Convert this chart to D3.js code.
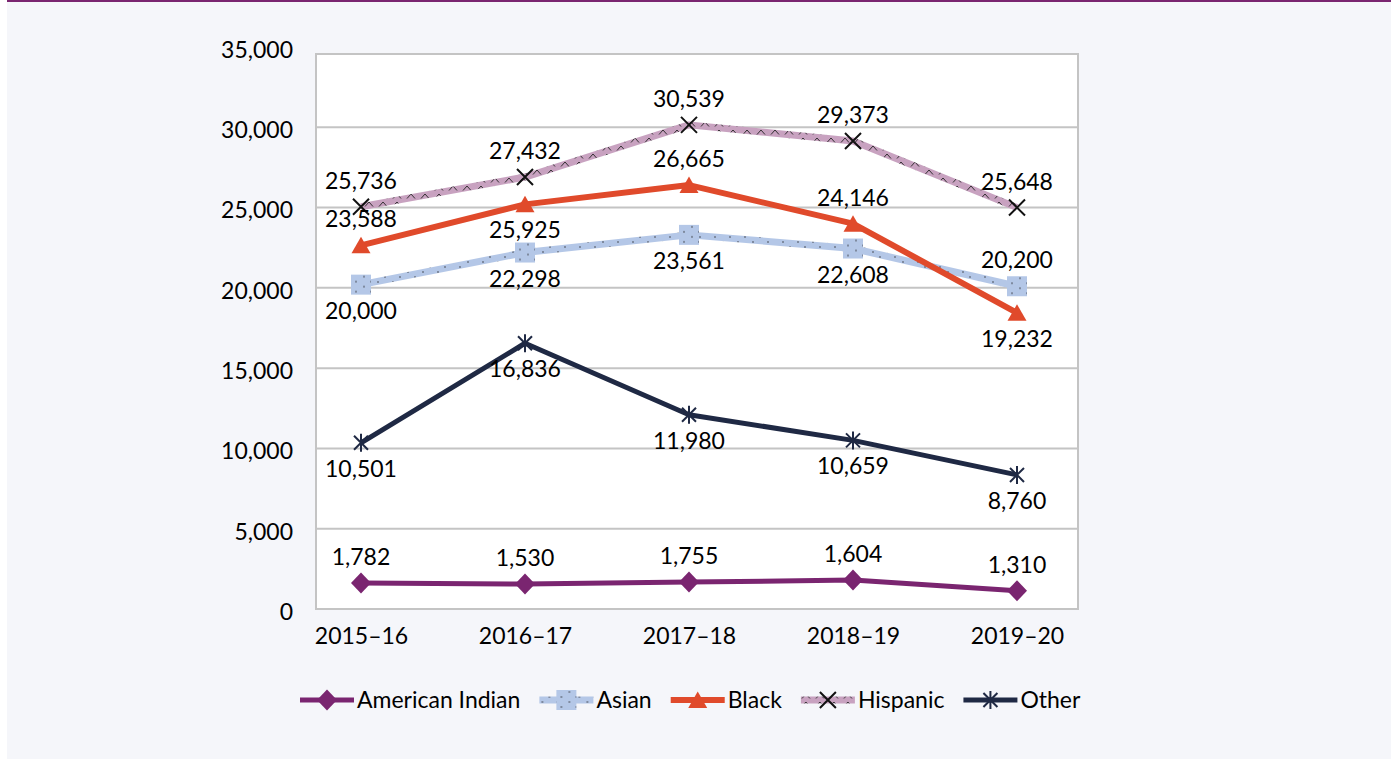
<!DOCTYPE html>
<html>
<head>
<meta charset="utf-8">
<script src="https://cdn.jsdelivr.net/npm/d3@7"></script>
<style>
  body { margin: 0; background: #fff; }
  svg text { font-family: Lato, "Open Sans", sans-serif; font-size: 23px; fill: #000; }
</style>
</head>
<body>
<svg id="chart" width="1398" height="759"></svg>
<script>
// data
const years = ['2015\u201316', '2016\u201317', '2017\u201318', '2018\u201319', '2019\u201320'];
const yTicks = [0, 5000, 10000, 15000, 20000, 25000, 30000, 35000];

// plotted values
const americanIndian = [1620, 1550, 1680, 1800, 1130];
const asian = [20200, 22200, 23300, 22450, 20100];
const black = [22650, 25200, 26400, 24000, 18450];
const hispanic = [25050, 26900, 30150, 29150, 25000];
const other = [10350, 16550, 12100, 10500, 8350];

// data label texts as printed
const americanIndianLabels = ['1,782', '1,530', '1,755', '1,604', '1,310'];
const asianLabels = ['20,000', '22,298', '23,561', '22,608', '20,200'];
const blackLabels = ['23,588', '25,925', '26,665', '24,146', '19,232'];
const hispanicLabels = ['25,736', '27,432', '30,539', '29,373', '25,648'];
const otherLabels = ['10,501', '16,836', '11,980', '10,659', '8,760'];

// which side of the point each label sits (-1 above, 1 below)
const americanIndianSide = [-1, -1, -1, -1, -1];
const asianSide = [1, 1, 1, 1, -1];
const blackSide = [-1, 1, -1, -1, 1];
const hispanicSide = [-1, -1, -1, -1, -1];
const otherSide = [1, 1, 1, 1, 1];

const series = [
  { name: 'American Indian', values: americanIndian, labels: americanIndianLabels, side: americanIndianSide,
    color: '#7A2570', stroke: '#7A2570', width: 5, marker: 'diamond' },
  { name: 'Asian', values: asian, labels: asianLabels, side: asianSide,
    color: '#B4C7E7', stroke: 'url(#dots)', width: 7, marker: 'square' },
  { name: 'Black', values: black, labels: blackLabels, side: blackSide,
    color: '#E04A2B', stroke: '#E04A2B', width: 6, marker: 'triangle' },
  { name: 'Hispanic', values: hispanic, labels: hispanicLabels, side: hispanicSide,
    color: '#C8A2C0', stroke: 'url(#zigzag)', width: 7, marker: 'x' },
  { name: 'Other', values: other, labels: otherLabels, side: otherSide,
    color: '#1F2944', stroke: '#1F2944', width: 5, marker: 'star' }
];

const svg = d3.select('#chart');

// panel background with purple rule on top
svg.append('rect').attr('x', 7).attr('y', 0).attr('width', 1384).attr('height', 759).attr('fill', '#F5F6FA');
svg.append('rect').attr('x', 7).attr('y', 0).attr('width', 1384).attr('height', 2).attr('fill', '#7A2570');

// textures for the two patterned series
const defs = svg.append('defs');
const dots = defs.append('pattern').attr('id', 'dots').attr('patternUnits', 'userSpaceOnUse')
  .attr('width', 15).attr('height', 10);
dots.append('rect').attr('width', 15).attr('height', 10).attr('fill', '#B4C7E7');
dots.append('circle').attr('cx', 3).attr('cy', 2).attr('r', 0.7).attr('fill', '#222');
dots.append('circle').attr('cx', 10).attr('cy', 7).attr('r', 0.7).attr('fill', '#222');

const zig = defs.append('pattern').attr('id', 'zigzag').attr('patternUnits', 'userSpaceOnUse')
  .attr('width', 14).attr('height', 8);
zig.append('rect').attr('width', 14).attr('height', 8).attr('fill', '#C8A2C0');
zig.append('path').attr('d', 'M1,6.5 L5,2 L9,6.5').attr('fill', 'none').attr('stroke', '#222').attr('stroke-width', 0.9);

// scales
const PLOT_LEFT = 316, PLOT_RIGHT = 1078, PLOT_TOP = 54, PLOT_BOTTOM = 609;
const x = d3.scalePoint().domain(years).range([361, 1017]);
const y = d3.scaleLinear().domain([0, 35000]).range([PLOT_BOTTOM, 47]);

// plot area
svg.append('rect')
  .attr('x', PLOT_LEFT).attr('y', PLOT_TOP)
  .attr('width', PLOT_RIGHT - PLOT_LEFT).attr('height', PLOT_BOTTOM - PLOT_TOP)
  .attr('fill', '#fff').attr('stroke', '#C4C4C4').attr('stroke-width', 2);

// gridlines
svg.append('g')
  .selectAll('line')
  .data(yTicks.filter(d => d > 0 && y(d) > PLOT_TOP))
  .join('line')
    .attr('x1', PLOT_LEFT).attr('x2', PLOT_RIGHT)
    .attr('y1', d => y(d)).attr('y2', d => y(d))
    .attr('stroke', '#C4C4C4').attr('stroke-width', 2);

// y axis labels
const yAxis = svg.append('g')
  .attr('transform', 'translate(293,3)')
  .call(d3.axisLeft(y).tickValues(yTicks).tickSize(0).tickPadding(0).tickFormat(d3.format(',')));
yAxis.select('.domain').remove();
yAxis.selectAll('text').attr('fill', '#000').style('font-size', '23px').style('font-family', 'Lato, "Open Sans", sans-serif');

// x axis labels
const xAxis = svg.append('g')
  .attr('transform', 'translate(0,' + 628 + ')')
  .call(d3.axisBottom(x).tickSize(0).tickPadding(0));
xAxis.select('.domain').remove();
xAxis.selectAll('text').attr('fill', '#000').attr('dy', '0.71em').style('font-size', '23px').style('font-family', 'Lato, "Open Sans", sans-serif');

/**
 * Marker shape drawn at (0,0)
 */
function drawMarker(g, type, color) {
  if (type === 'diamond') {
    g.append('path').attr('d', 'M0,-10.5 L10,0 L0,10.5 L-10,0 Z').attr('fill', color);
  } else if (type === 'square') {
    g.append('rect').attr('x', -10).attr('y', -10).attr('width', 20).attr('height', 20).attr('fill', 'url(#dots)');
  } else if (type === 'triangle') {
    g.append('path').attr('d', 'M0,-8.5 L9.5,8 L-9.5,8 Z').attr('fill', color);
  } else if (type === 'x') {
    g.append('path').attr('d', 'M-8,-8 L8,8 M-8,8 L8,-8').attr('stroke', '#111').attr('stroke-width', 2);
  } else if (type === 'star') {
    g.append('path').attr('d', 'M-7,-7 L7,7 M-7,7 L7,-7 M0,-9 L0,9').attr('stroke', color).attr('stroke-width', 2);
  }
}

const line = d3.line()
  .x((_, i) => x(years[i]))
  .y(d => y(d));

// lines and markers
series.forEach(s => {
  svg.append('path')
    .datum(s.values)
      .attr('fill', 'none')
      .attr('stroke', s.stroke)
      .attr('stroke-width', s.width)
      .attr('stroke-linejoin', 'round')
      .attr('d', line);

  s.values.forEach((v, i) => {
    const m = svg.append('g').attr('transform', 'translate(' + x(years[i]) + ',' + y(v) + ')');
    drawMarker(m, s.marker, s.color);
  });
});

// data labels
series.forEach(s => {
  svg.append('g')
    .selectAll('text')
    .data(s.values)
    .join('text')
      .attr('x', (_, i) => x(years[i]))
      .attr('y', (d, i) => y(d) + s.side[i] * 26)
      .attr('dy', '0.35em')
      .attr('text-anchor', 'middle')
      .text((_, i) => s.labels[i]);
});

// legend
const legend = svg.append('g').attr('transform', 'translate(0,700)');
let lx = 300;
series.forEach(s => {
  const item = legend.append('g').attr('transform', 'translate(' + lx + ',0)');
  item.append('line')
    .attr('x1', 0).attr('x2', 54)
    .attr('stroke', s.stroke).attr('stroke-width', s.width);
  const m = item.append('g').attr('transform', 'translate(27,0)');
  drawMarker(m, s.marker, s.color);
  const t = item.append('text').attr('x', 57).attr('dy', '0.35em').text(s.name);
  lx += 57 + t.node().getComputedTextLength() + 19;
});
</script>
</body>
</html>
